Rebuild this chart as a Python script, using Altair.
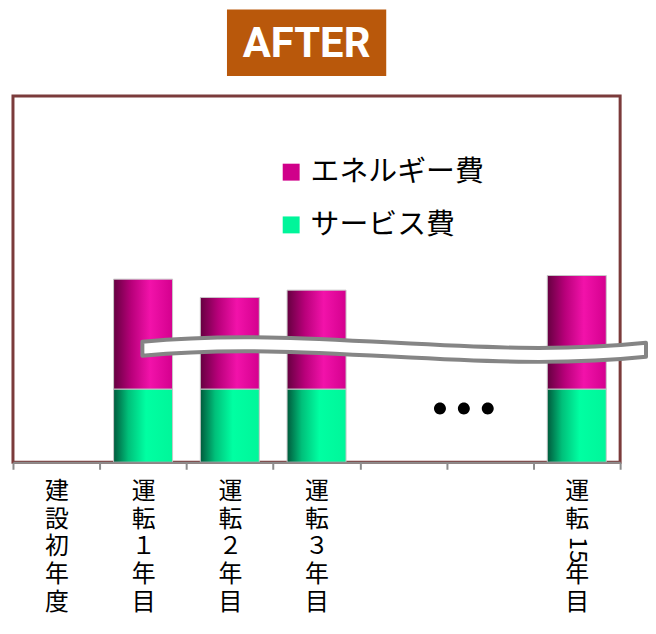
import altair as alt
import pandas as pd

# ---- data ----
categories = ["建設初年度", "運転１年目", "運転２年目", "運転３年目", "gap_a", "gap_b", "運転15年目"]
service_cost = [0, 20, 20, 20, None, None, 20]
energy_cost = [0, 30, 25, 27, None, None, 31]
series_names = ["エネルギー費", "サービス費"]
series_colors = ["#d0008a", "#00f59a"]
title_text = ["AFTER"]
rotated_part = {"運転15年目": "15"}

rows = []
for c, s, e in zip(categories, service_cost, energy_cost):
    if not s:
        continue
    rows.append({"cat": c, "series": "サービス費", "start": 0, "end": s})
    rows.append({"cat": c, "series": "エネルギー費", "start": s, "end": s + e})
df = pd.DataFrame(rows)

FONT_JP = "Noto Sans CJK JP"

x_scale = alt.Scale(domain=categories, paddingInner=0, paddingOuter=0)
x_enc = alt.X(
    "cat:N",
    sort=categories,
    scale=x_scale,
    axis=alt.Axis(
        title=None,
        labelAngle=0,
        labelFont=FONT_JP,
        labelFontSize=24,
        labelLineHeight=28,
        labelColor="#000000",
        labelPadding=10,
        labelBaseline="top",
        labelExpr=(
            "datum.label == '運転15年目' ? ['運','転','\u2800','年','目'] : "
            "(indexof(datum.label, 'gap') == 0 ? '' : split(datum.label, ''))"
        ),
        domainColor="#8c8c8c",
        domainWidth=2,
        tickColor="#8c8c8c",
        tickWidth=2,
        tickSize=7,
        tickBand="extent",
        grid=False,
        zindex=1,
        labelOverlap=False,
    ),
)
y_scale = alt.Scale(domain=[0, 100])

grad_green = alt.Gradient(
    gradient="linear", x1=0, x2=1, y1=0, y2=0,
    stops=[
        alt.GradientStop(color="#005a3c", offset=0),
        alt.GradientStop(color="#00c07a", offset=0.25),
        alt.GradientStop(color="#00ffa2", offset=0.55),
        alt.GradientStop(color="#00f69a", offset=1),
    ],
)
grad_magenta = alt.Gradient(
    gradient="linear", x1=0, x2=1, y1=0, y2=0,
    stops=[
        alt.GradientStop(color="#650040", offset=0),
        alt.GradientStop(color="#b8007a", offset=0.3),
        alt.GradientStop(color="#f212aa", offset=0.62),
        alt.GradientStop(color="#d4008e", offset=1),
    ],
)

bar_w = alt.RelativeBandSize(0.68)
base = alt.Chart(df)
green = base.transform_filter(alt.datum.series == "サービス費").mark_bar(
    fill=grad_green, stroke="#c8c8c8", strokeWidth=1, width=bar_w
).encode(x=x_enc, y=alt.Y("start:Q", scale=y_scale, axis=None), y2="end:Q")
magenta = base.transform_filter(alt.datum.series == "エネルギー費").mark_bar(
    fill=grad_magenta, stroke="#c8c8c8", strokeWidth=1, width=bar_w
).encode(x=x_enc, y=alt.Y("start:Q", scale=y_scale, axis=None), y2="end:Q")

# wavy break band (custom symbol path)
wave_path = (
    "M -1 -0.0317 C -0.33 -0.0977 0.33 0.0423 1 -0.0277 "
    "L 1 0.0277 C 0.33 0.0977 -0.33 -0.0423 -1 0.0237 Z"
)
wave = alt.Chart(pd.DataFrame({"k": [0]})).mark_point(
    shape=wave_path, filled=True, fill="white", stroke="#858585",
    strokeWidth=4, opacity=1, fillOpacity=1, strokeOpacity=1, strokeJoin="round",
).encode(x=alt.value(383), y=alt.value(255), size=alt.value(256036))

dots_path = (
    "M -1 0 A 0.2 0.2 0 1 0 -0.6 0 A 0.2 0.2 0 1 0 -1 0 Z "
    "M -0.2 0 A 0.2 0.2 0 1 0 0.2 0 A 0.2 0.2 0 1 0 -0.2 0 Z "
    "M 0.6 0 A 0.2 0.2 0 1 0 1 0 A 0.2 0.2 0 1 0 0.6 0 Z"
)
dots = alt.Chart(pd.DataFrame({"k": [0]})).mark_point(
    shape=dots_path, filled=True, fill="black", opacity=1, strokeWidth=0,
).encode(x=alt.value(453), y=alt.value(314), size=alt.value(3600))

rot_df = pd.DataFrame({"cat": list(rotated_part.keys()), "t": list(rotated_part.values())})
rot = alt.Chart(rot_df).mark_text(
    angle=90, font=FONT_JP, fontSize=24, align="center", baseline="middle", color="black"
).encode(x=alt.X("cat:N", sort=categories, scale=x_scale), y=alt.value(456), text="t:N")

tdf = pd.DataFrame({"t": title_text})
title_box = alt.Chart(tdf).mark_rect(color="#b9580b").encode(
    x=alt.value(215), x2=alt.value(375), y=alt.value(-87), y2=alt.value(-20)
)
title_txt = alt.Chart(tdf).mark_text(
    font="Roboto", fontSize=42, fontWeight="bold",
    color="white", align="center", baseline="middle",
).encode(x=alt.value(295), y=alt.value(-52), text="t:N")

leg_df = pd.DataFrame({"series": series_names})
legend_layer = alt.Chart(leg_df).mark_square(opacity=0, size=289).encode(
    color=alt.Color(
        "series:N",
        scale=alt.Scale(domain=series_names, range=series_colors),
        legend=alt.Legend(
            title=None, orient="none", legendX=265, legendY=62,
            symbolType="square", symbolSize=289, symbolOpacity=1, symbolStrokeWidth=0,
            labelFont=FONT_JP, labelFontSize=29, labelColor="#000000", labelOffset=5,
            rowPadding=23, padding=0, labelLimit=400,
        ),
    )
)

chart = alt.layer(green, magenta, wave, dots, rot, title_box, title_txt, legend_layer).properties(
    width=610, height=368, padding={"left": 4, "top": 0, "right": 0, "bottom": 0}
).configure_view(stroke="#7b3b3b", strokeWidth=3)

chart.save("out.html", embed_options={"renderer": "svg", "actions": False})
